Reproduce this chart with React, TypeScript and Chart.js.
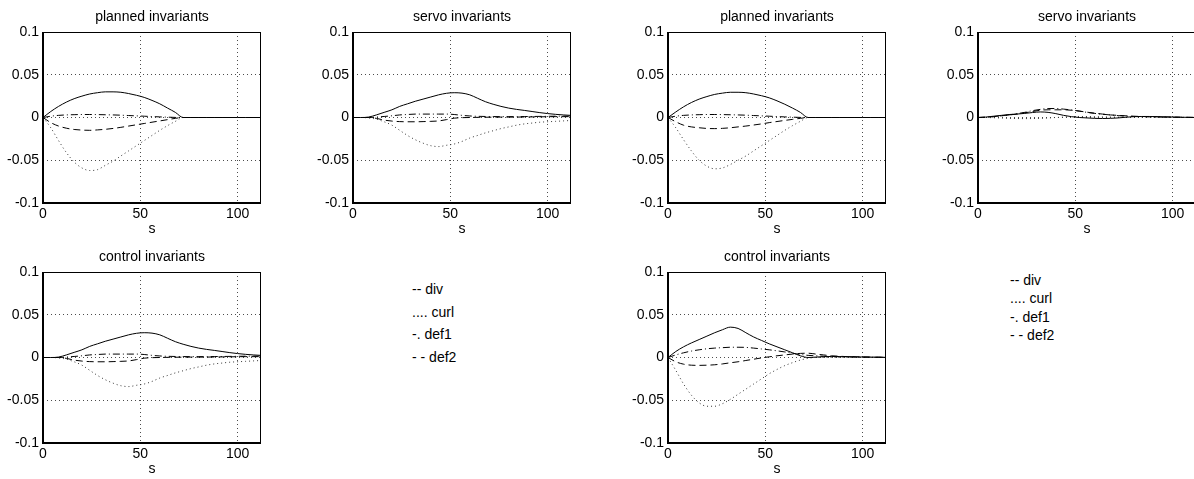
import React, { useEffect, useRef } from "react";
import { Chart, registerables } from "chart.js";
Chart.register(...registerables);

// ---------- data ----------
const sValues = [0, 4, 8, 12, 16, 20, 24, 28, 32, 36, 40, 44, 48, 52, 56, 60, 64, 68, 72, 76, 80, 84, 88, 92, 96, 100, 104, 108, 112];
const xTickValues = [0, 50, 100];
const yTickValues = [-0.1, -0.05, 0, 0.05, 0.1];
const seriesNames = ["div", "curl", "def1", "def2"];
const legendLines = ["-- div", ".... curl", "-. def1", "- - def2"];
const panelTitles = ["planned invariants", "servo invariants", "planned invariants", "servo invariants", "control invariants", "control invariants"];

// panel 1: planned invariants (left)
const planned1Div = [0, 0.007, 0.013, 0.018, 0.022, 0.025, 0.0275, 0.029, 0.03, 0.03, 0.0295, 0.028, 0.026, 0.0235, 0.02, 0.016, 0.011, 0.006, 0, 0, 0, 0, 0, 0, 0, 0, 0, 0, 0];
const planned1Curl = [0, -0.012, -0.027, -0.041, -0.052, -0.059, -0.062, -0.061, -0.056, -0.051, -0.045, -0.039, -0.033, -0.027, -0.021, -0.015, -0.0095, -0.0045, 0, 0, 0, 0, 0, 0, 0, 0, 0, 0, 0];
const planned1Def1 = [0, 0.0015, 0.0025, 0.003, 0.0033, 0.0035, 0.0035, 0.0034, 0.0032, 0.003, 0.0027, 0.0023, 0.0019, 0.0015, 0.0011, 0.0007, 0.0004, 0.0001, 0, 0, 0, 0, 0, 0, 0, 0, 0, 0, 0];
const planned1Def2 = [0, -0.006, -0.01, -0.0125, -0.014, -0.0147, -0.015, -0.0145, -0.0138, -0.0128, -0.0115, -0.01, -0.0085, -0.007, -0.0055, -0.004, -0.0025, -0.001, 0, 0, 0, 0, 0, 0, 0, 0, 0, 0, 0];

// panel 2: servo invariants (left)
const servo1Div = [0, 0, 0.0005, 0.003, 0.006, 0.009, 0.013, 0.016, 0.019, 0.0215, 0.024, 0.0265, 0.0283, 0.029, 0.0285, 0.0265, 0.0225, 0.0185, 0.0155, 0.013, 0.011, 0.0095, 0.0083, 0.007, 0.0057, 0.0046, 0.0037, 0.003, 0.0025];
const servo1Curl = [0, 0, -0.0005, -0.002, -0.005, -0.009, -0.015, -0.021, -0.026, -0.03, -0.033, -0.034, -0.0325, -0.031, -0.028, -0.024, -0.021, -0.018, -0.0155, -0.013, -0.011, -0.009, -0.0075, -0.0065, -0.0055, -0.005, -0.0045, -0.004, -0.0035];
const servo1Def1 = [0, 0, 0, 0.0005, 0.0012, 0.002, 0.003, 0.0035, 0.004, 0.004, 0.004, 0.004, 0.004, 0.0035, 0.0025, 0.0018, 0.0014, 0.0012, 0.0011, 0.001, 0.001, 0.001, 0.0011, 0.0012, 0.0013, 0.0014, 0.0015, 0.0016, 0.0017];
const servo1Def2 = [0, 0, 0, -0.001, -0.003, -0.0042, -0.0048, -0.005, -0.005, -0.0048, -0.0045, -0.004, -0.0025, -0.0008, -0.0002, 0, 0.0002, 0.0003, 0.0004, 0.0005, 0.0005, 0.0005, 0.0006, 0.0007, 0.0008, 0.0009, 0.001, 0.001, 0.001];

// panel 3: planned invariants (right)
const planned2Div = [0, 0.0065, 0.0125, 0.0175, 0.0215, 0.0245, 0.027, 0.0285, 0.0295, 0.0295, 0.029, 0.0275, 0.0255, 0.023, 0.0195, 0.0155, 0.011, 0.006, 0, 0, 0, 0, 0, 0, 0, 0, 0, 0, 0];
const planned2Curl = [0, -0.012, -0.026, -0.039, -0.05, -0.057, -0.06, -0.059, -0.055, -0.05, -0.045, -0.039, -0.033, -0.027, -0.021, -0.015, -0.0095, -0.0045, 0, 0, 0, 0, 0, 0, 0, 0, 0, 0, 0];
const planned2Def1 = [0, 0.0015, 0.0025, 0.003, 0.0033, 0.0035, 0.0035, 0.0034, 0.0032, 0.003, 0.0027, 0.0023, 0.0019, 0.0015, 0.0011, 0.0007, 0.0004, 0.0001, 0, 0, 0, 0, 0, 0, 0, 0, 0, 0, 0];
const planned2Def2 = [0, -0.005, -0.009, -0.011, -0.012, -0.0128, -0.013, -0.0127, -0.012, -0.011, -0.01, -0.0088, -0.0075, -0.006, -0.0047, -0.0034, -0.0022, -0.001, 0, 0, 0, 0, 0, 0, 0, 0, 0, 0, 0];

// panel 4: servo invariants (right)
const servo2Div = [0, 0.0005, 0.0015, 0.0025, 0.0035, 0.004, 0.0048, 0.0058, 0.0065, 0.006, 0.0045, 0.0025, 0.001, 0, -0.0005, -0.001, -0.0012, -0.001, -0.0005, 0.0003, 0.001, 0.0012, 0.0012, 0.001, 0.0008, 0.0005, 0.0003, 0.0002, 0];
const servo2Curl = [0, 0, -0.0003, -0.0006, -0.001, -0.0012, -0.0013, -0.0012, -0.001, -0.0006, 0, 0.0005, 0.001, 0.0012, 0.0012, 0.001, 0.0008, 0.0006, 0.0004, 0.0003, 0.0002, 0.0001, 0, 0, 0, 0, 0, 0, 0];
const servo2Def1 = [0, 0.0003, 0.001, 0.002, 0.003, 0.0045, 0.006, 0.008, 0.0095, 0.0105, 0.0105, 0.0098, 0.0088, 0.0075, 0.006, 0.0048, 0.0038, 0.003, 0.0022, 0.0016, 0.0012, 0.001, 0.0008, 0.0006, 0.0004, 0.0003, 0.0002, 0.0001, 0];
const servo2Def2 = [0, 0.0003, 0.001, 0.002, 0.003, 0.004, 0.0055, 0.007, 0.0085, 0.009, 0.009, 0.009, 0.0085, 0.0075, 0.0062, 0.005, 0.004, 0.003, 0.0025, 0.002, 0.0015, 0.0012, 0.001, 0.0008, 0.0006, 0.0005, 0.0003, 0.0002, 0.0001];

// panel 5: control invariants (left)
const control1Div = [0, 0, 0.0005, 0.003, 0.006, 0.009, 0.013, 0.016, 0.019, 0.0215, 0.024, 0.0265, 0.0283, 0.029, 0.0285, 0.0265, 0.0225, 0.0185, 0.0155, 0.013, 0.011, 0.0095, 0.0083, 0.007, 0.0057, 0.0046, 0.0037, 0.003, 0.0025];
const control1Curl = [0, 0, -0.0005, -0.002, -0.005, -0.009, -0.015, -0.021, -0.026, -0.03, -0.033, -0.034, -0.0325, -0.031, -0.028, -0.024, -0.021, -0.018, -0.0155, -0.013, -0.011, -0.009, -0.0075, -0.0065, -0.0055, -0.005, -0.0045, -0.004, -0.0035];
const control1Def1 = [0, 0, 0, 0.0005, 0.0012, 0.002, 0.003, 0.0035, 0.004, 0.004, 0.004, 0.004, 0.004, 0.0035, 0.0025, 0.0018, 0.0014, 0.0012, 0.0011, 0.001, 0.001, 0.001, 0.0011, 0.0012, 0.0013, 0.0014, 0.0015, 0.0016, 0.0017];
const control1Def2 = [0, 0, 0, -0.001, -0.003, -0.0042, -0.0048, -0.005, -0.005, -0.0048, -0.0045, -0.004, -0.0025, -0.0008, -0.0002, 0, 0.0002, 0.0003, 0.0004, 0.0005, 0.0005, 0.0005, 0.0006, 0.0007, 0.0008, 0.0009, 0.001, 0.001, 0.001];

// panel 6: control invariants (right)
const control2Div = [0, 0.007, 0.0125, 0.017, 0.021, 0.025, 0.029, 0.0325, 0.0355, 0.034, 0.029, 0.024, 0.02, 0.016, 0.0125, 0.009, 0.0055, 0.002, 0, 0.0005, 0.001, 0.0012, 0.001, 0.001, 0.0008, 0.0006, 0.0005, 0.0003, 0.0002];
const control2Curl = [0, -0.015, -0.031, -0.044, -0.053, -0.057, -0.057, -0.054, -0.049, -0.043, -0.037, -0.031, -0.025, -0.019, -0.014, -0.0095, -0.006, -0.003, -0.001, 0, 0, 0, 0, 0, 0, 0, 0, 0, 0];
const control2Def1 = [0, 0.003, 0.0055, 0.0075, 0.009, 0.0102, 0.011, 0.0115, 0.012, 0.012, 0.0118, 0.011, 0.01, 0.009, 0.0078, 0.0065, 0.005, 0.0035, 0.0025, 0.002, 0.0015, 0.0012, 0.001, 0.0008, 0.0006, 0.0005, 0.0004, 0.0003, 0.0002];
const control2Def2 = [0, -0.005, -0.0078, -0.009, -0.0092, -0.009, -0.0085, -0.0075, -0.0062, -0.005, -0.0035, -0.002, -0.0005, 0.0008, 0.002, 0.003, 0.004, 0.0048, 0.005, 0.004, 0.003, 0.002, 0.0015, 0.001, 0.0008, 0.0005, 0.0004, 0.0003, 0.0002];

const panelSeries = [
  [planned1Div, planned1Curl, planned1Def1, planned1Def2],
  [servo1Div, servo1Curl, servo1Def1, servo1Def2],
  [planned2Div, planned2Curl, planned2Def1, planned2Def2],
  [servo2Div, servo2Curl, servo2Def1, servo2Def2],
  [control1Div, control1Curl, control1Def1, control1Def2],
  [control2Div, control2Curl, control2Def1, control2Def2],
];

// ---------- layout & style ----------
const FONT = "'Liberation Sans', Arial, Helvetica, sans-serif";
const FONT_SIZE = 14;
const AREA_W = 218;
const AREA_H = 171;
const Y_AXIS_W = 45;
const TITLE_H = 32;
const X_AXIS_H = 40;
const RIGHT_PAD = 8;
const panelPos = [
  { left: 43, top: 32 },
  { left: 353, top: 32 },
  { left: 668, top: 32 },
  { left: 978, top: 32 },
  { left: 43, top: 272 },
  { left: 668, top: 272 },
];
const seriesStyle = [
  { dash: [] as number[], color: "#000000" },
  { dash: [1, 3], color: "#333333" },
  { dash: [7, 3, 1, 3], color: "#000000" },
  { dash: [7, 4], color: "#000000" },
];
const legendBlocks = [
  { left: 412, tops: [281, 303.5, 326, 348.5] },
  { left: 1010, tops: [272, 290, 308.5, 326.5] },
];

const boxPlugin = {
  id: "axesBox",
  afterDatasetsDraw(chart: any) {
    const { ctx, chartArea: a } = chart;
    ctx.save();
    ctx.strokeStyle = "#000";
    ctx.setLineDash([]);
    ctx.lineWidth = 1;
    ctx.beginPath();
    ctx.moveTo(a.left, a.top + 0.5);
    ctx.lineTo(a.right, a.top + 0.5);
    ctx.moveTo(a.right - 0.5, a.top);
    ctx.lineTo(a.right - 0.5, a.bottom);
    ctx.stroke();
    ctx.lineWidth = 2;
    ctx.beginPath();
    ctx.moveTo(a.left, a.top);
    ctx.lineTo(a.left, a.bottom);
    ctx.lineTo(a.right, a.bottom);
    ctx.stroke();
    ctx.restore();
  },
};

function fmtY(v: number) {
  return String(Number(v.toFixed(2)));
}

function Panel({ index }: { index: number }) {
  const ref = useRef<HTMLCanvasElement | null>(null);
  const pos = panelPos[index];
  const width = Y_AXIS_W + AREA_W + RIGHT_PAD;
  const height = TITLE_H + AREA_H + X_AXIS_H;
  useEffect(() => {
    if (!ref.current) return;
    const series = panelSeries[index];
    const chart = new Chart(ref.current, {
      type: "line",
      data: {
        datasets: series.map((vals, k) => ({
          label: seriesNames[k],
          data: vals.map((y, i) => ({ x: sValues[i], y })),
          borderColor: seriesStyle[k].color,
          borderDash: seriesStyle[k].dash,
          borderWidth: 1,
          pointRadius: 0,
          fill: false,
          cubicInterpolationMode: "monotone" as const,
        })),
      },
      options: {
        animation: false,
        responsive: false,
        maintainAspectRatio: false,
        devicePixelRatio: 1,
        events: [],
        layout: { padding: { left: 0, right: RIGHT_PAD, top: 0, bottom: 0 } },
        plugins: {
          legend: { display: false },
          tooltip: { enabled: false },
          title: {
            display: true,
            fullSize: false,
            text: panelTitles[index],
            color: "#000",
            font: { family: FONT, size: FONT_SIZE, weight: "normal" },
            padding: { top: 8.8, bottom: 6.4 },
          },
        },
        scales: {
          x: {
            type: "linear",
            min: 0,
            max: 112,
            afterBuildTicks: (s: any) => {
              s.ticks = xTickValues.map((v) => ({ value: v }));
            },
            afterFit: (s: any) => {
              s.height = X_AXIS_H;
            },
            ticks: {
              color: "#000",
              padding: 3,
              font: { family: FONT, size: FONT_SIZE },
              maxRotation: 0,
              callback: (v: any) => String(v),
            },
            grid: { drawTicks: false, color: "rgba(0,0,0,0.7)", lineWidth: 1 },
            border: { display: false, dash: [1, 3] },
            title: {
              display: true,
              text: "s",
              color: "#000",
              font: { family: FONT, size: FONT_SIZE },
              padding: { top: 0, bottom: 5.8 },
            },
          },
          y: {
            type: "linear",
            min: -0.1,
            max: 0.1,
            afterBuildTicks: (s: any) => {
              s.ticks = yTickValues.map((v) => ({ value: v }));
            },
            afterFit: (s: any) => {
              s.width = Y_AXIS_W;
            },
            ticks: {
              color: "#000",
              padding: 4,
              font: { family: FONT, size: FONT_SIZE },
              callback: (v: any) => fmtY(Number(v)),
            },
            grid: { drawTicks: false, color: "rgba(0,0,0,0.7)", lineWidth: 1 },
            border: { display: false, dash: [1, 3] },
          },
        },
      } as any,
      plugins: [boxPlugin],
    });
    return () => chart.destroy();
  }, [index]);
  return (
    <canvas
      ref={ref}
      width={width}
      height={height}
      style={{
        position: "absolute",
        left: pos.left - Y_AXIS_W,
        top: pos.top - TITLE_H,
        width,
        height,
      }}
    />
  );
}

export default function App() {
  return (
    <div
      style={{
        position: "fixed",
        left: 0,
        top: 0,
        width: 1194,
        height: 479,
        overflow: "hidden",
        background: "#fff",
        fontFamily: FONT,
      }}
    >
      {panelPos.map((_, i) => (
        <Panel key={i} index={i} />
      ))}
      {legendBlocks.map((b, bi) =>
        legendLines.map((t, li) => (
          <div
            key={bi + "-" + li}
            style={{
              position: "absolute",
              left: b.left,
              top: b.tops[li],
              fontSize: FONT_SIZE,
              lineHeight: "16px",
              whiteSpace: "pre",
              color: "#000",
            }}
          >
            {t}
          </div>
        ))
      )}
    </div>
  );
}
